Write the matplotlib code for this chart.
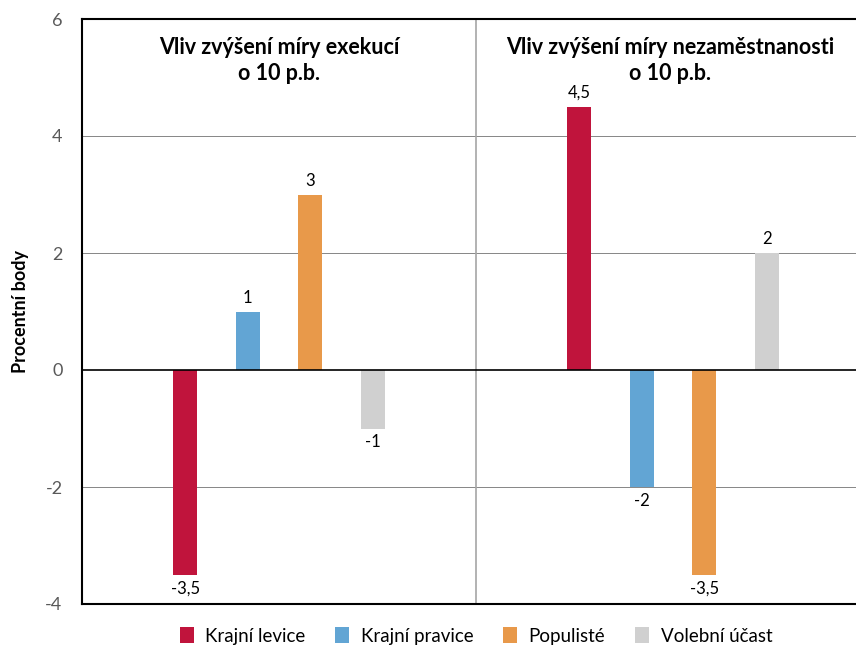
import matplotlib
matplotlib.use("Agg")
import matplotlib.pyplot as plt
from matplotlib.patches import Patch

plt.rcParams['font.family'] = ['Lato', 'DejaVu Sans']

series = ["Krajní levice", "Krajní pravice", "Populisté", "Volební účast"]
colors = ["#C0143C", "#62A5D4", "#E8994A", "#D0D0D0"]
panel_titles = ["Vliv zvýšení míry exekucí\no 10 p.b.",
                "Vliv zvýšení míry nezaměstnanosti\no 10 p.b."]
values_exekuce = [-3.5, 1, 3, -1]
values_nezam = [4.5, -2, -3.5, 2]
yticks = [-4, -2, 0, 2, 4, 6]

W, H = 856, 646
fig = plt.figure(figsize=(W/100, H/100), dpi=100)
ax = fig.add_axes([82/W, 1-604/H, (870-82)/W, (604-19)/H])

group_w = 6.3
bar_w = 0.38
groups = [values_exekuce, values_nezam]
centers = []
for g, vals in enumerate(groups):
    c = 1.5 + g*group_w
    centers.append(c)
    for i, v in enumerate(vals):
        x = c - 1.5 + i
        ax.bar(x, v, width=bar_w, color=colors[i], zorder=3)
        lab = ("%g" % v).replace('.', ',')
        if v >= 0:
            ax.text(x, v + 0.1, lab, ha='center', va='bottom', fontsize=12, color='black')
        else:
            ax.text(x, v - 0.1, lab, ha='center', va='top', fontsize=12, color='black')

left = centers[0] - group_w/2
right = centers[1] + group_w/2
ax.set_xlim(left, right)
ax.set_ylim(-4, 6)
ax.axvline(left + group_w, color='#A6A6A6', lw=1.2, zorder=2)
for y in [-2, 2, 4]:
    ax.axhline(y, color='#868686', lw=0.7, zorder=1)
ax.axhline(0, color='black', lw=1.2, zorder=4)

for g, t in enumerate(panel_titles):
    ax.text(centers[g] - 0.05*g, 5.7, t, ha='center', va='top', fontsize=15.5,
            fontweight='bold', color='black', linespacing=1.3)

ax.set_yticks(yticks)
ax.set_yticklabels([str(t) for t in yticks], fontsize=13, color='#595959')
ax.tick_params(axis='y', length=0, pad=14)
ax.set_xticks([])
for s in ['left', 'top', 'bottom', 'right']:
    ax.spines[s].set_color('black')
    ax.spines[s].set_linewidth(1.5)
ax.set_ylabel("Procentní body", fontsize=13, fontweight='bold', labelpad=12)

handles = [Patch(facecolor=c, edgecolor='none') for c in colors]
fig.legend(handles, series, loc='center', bbox_to_anchor=(476/W, 1-636/H), ncol=4,
           frameon=False, fontsize=13.5, handlelength=0.75, handleheight=0.9,
           columnspacing=1.6, handletextpad=0.6)

fig.savefig("out.png", dpi=100)
